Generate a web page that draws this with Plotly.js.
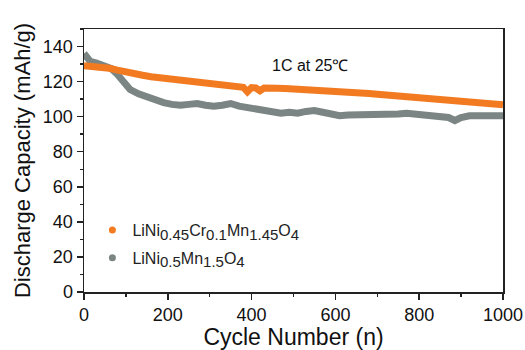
<!DOCTYPE html>
<html>
<head>
<meta charset="utf-8">
<script src="https://cdn.plot.ly/plotly-3.0.1.min.js"></script>
<style>html,body{margin:0;padding:0;background:#fff;}#chart{width:525px;height:350px;}</style>
</head>
<body>
<div id="chart"></div>
<script>
// Cycle numbers and discharge capacities (mAh/g)
const cyclesCr = [0,20,40,60,80,100,120,140,160,180,200,220,240,260,280,300,320,340,360,380,390,400,410,420,430,440,460,480,500,520,540,560,580,600,620,640,660,680,700,720,740,760,780,800,820,840,860,880,900,920,940,960,980,1000];
const capCr = [129,128.8,128.4,127.6,126.5,125.2,124.4,123.6,122.8,122.3,121.6,121,120.4,120,119.5,119,118.4,117.9,117.6,116.8,114.2,116.6,116.4,114.8,116.3,116.5,116.2,116,115.8,115.5,115.2,114.8,114.6,114.3,114,113.8,113.5,113.2,112.8,112.4,112,111.6,111.2,110.8,110.5,110,109.6,109.2,108.8,108.5,108.2,107.8,107.4,106.8];
const cyclesBase = [0,5,15,30,50,65,80,95,110,130,150,170,190,210,230,250,270,290,310,330,350,370,390,410,430,450,470,490,510,530,550,570,590,610,630,650,670,690,710,730,750,770,790,810,830,850,870,885,900,920,940,960,980,1000];
const capBase = [136,134,131.5,130.5,129,127.5,124,120,115.5,113,111,109.5,108,107,106.5,107,107.5,106.5,106,106.5,107.5,106,105,104.5,104,103,102,102.5,102,103,103.5,102.5,101,100.5,101,101,101.5,101,100.8,101.2,101.5,102,101.5,101,100.5,100.5,99.5,97.8,99.5,100.5,100.7,100.5,100.3,100.5];
const S = s => '<sub><span style="font-size:15px">' + s + '</span></sub>';
const seriesNames = ['LiNi' + S('0.45') + 'Cr' + S('0.1') + 'Mn' + S('1.45') + 'O' + S('4'), 'LiNi' + S('0.5') + 'Mn' + S('1.5') + 'O' + S('4')];
const seriesColors = ['#f27b22', '#7b8583'];
const xTicks = [0,200,400,600,800,1000];
const yTicks = [0,20,40,60,80,100,120,140];

const font = 'Liberation Sans, Arial, sans-serif';
const traces = [
  {x: cyclesBase, y: capBase, mode: 'lines', line: {color: seriesColors[1], width: 7}, showlegend: false, hoverinfo: 'skip'},
  {x: cyclesCr, y: capCr, mode: 'lines', line: {color: seriesColors[0], width: 7}, showlegend: false, hoverinfo: 'skip'},
  {x: [null], y: [null], mode: 'markers', name: seriesNames[0], legendgroup: 'a', marker: {color: seriesColors[0], size: 7}},
  {x: [null], y: [null], mode: 'markers', name: seriesNames[1], legendgroup: 'b', marker: {color: seriesColors[1], size: 7}}
];
const axisCommon = {
  showline: true, linecolor: '#222', linewidth: 1.5, mirror: true,
  ticks: 'outside', ticklen: 6, tickwidth: 1.5, tickcolor: '#222',
  showgrid: false, zeroline: false,
  tickfont: {family: font, size: 18, color: '#111'}
};
const layout = {
  width: 525, height: 350,
  margin: {l: 84, r: 22, t: 29, b: 58},
  paper_bgcolor: '#fff', plot_bgcolor: '#fff',
  xaxis: Object.assign({}, axisCommon, {
    range: [0, 1000], tickvals: xTicks,
    minor: {dtick: 100, ticks: 'outside', ticklen: 3, tickwidth: 1.5, tickcolor: '#222'},
    title: {text: 'Cycle Number (n)', font: {family: font, size: 23, color: '#111'}, standoff: 2}
  }),
  yaxis: Object.assign({}, axisCommon, {
    range: [0, 150], tickvals: yTicks,
    minor: {dtick: 10, ticks: 'outside', ticklen: 3, tickwidth: 1.5, tickcolor: '#222'},
    title: {text: 'Discharge Capacity (mAh/g)', font: {family: font, size: 22, color: '#111'}, standoff: 6}
  }),
  legend: {x: 0.02, y: 0.30, xanchor: 'left', yanchor: 'top', bgcolor: 'rgba(0,0,0,0)',
    font: {family: font, size: 16, color: '#222'}, tracegroupgap: 4},
  annotations: [{
    text: '1C at 25℃', xref: 'paper', yref: 'paper', x: 0.54, y: 0.9,
    showarrow: false, font: {family: font, size: 16, color: '#111'}
  }]
};
Plotly.newPlot('chart', traces, layout, {staticPlot: true, displayModeBar: false});
</script>
</body>
</html>
